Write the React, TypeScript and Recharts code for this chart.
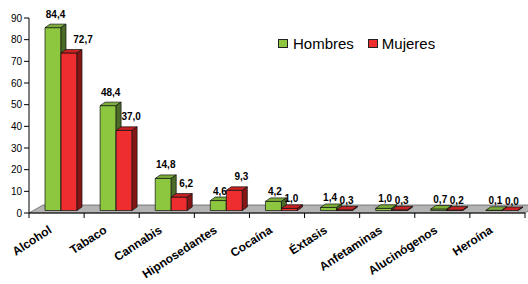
import React from 'react'
import { BarChart, Bar, XAxis, YAxis, Legend, LabelList, ReferenceArea } from 'recharts'

const categories = ['Alcohol', 'Tabaco', 'Cannabis', 'Hipnosedantes', 'Cocaína', 'Éxtasis', 'Anfetaminas', 'Alucinógenos', 'Heroína']
const hombres = [84.4, 48.4, 14.8, 4.6, 4.2, 1.4, 1.0, 0.7, 0.1]
const mujeres = [72.7, 37.0, 6.2, 9.3, 1.0, 0.3, 0.3, 0.2, 0.0]
const yTicks = [0, 10, 20, 30, 40, 50, 60, 70, 80, 90]

const data = categories.map((name, i) => ({ name, hombres: hombres[i], mujeres: mujeres[i] }))

const FONT = '"Liberation Sans", Arial, sans-serif'
const GREEN = { front: '#8DC63F', top: '#7AAE38', side: '#4B6B28' }
const RED = { front: '#EE2E2E', top: '#C82222', side: '#861616' }

// fake 3d depth of the bars and the floor
const DX = 5
const DY = 3.5
const SHIFT_X = 4
const SHIFT_Y = -2.5
const FLOOR_DX = 14
const FLOOR_DY = 8

const fmt = (v: number) => v.toFixed(1).replace('.', ',')

const box = (c: { front: string; top: string; side: string }) => (props: any) => {
  const { x, y, width, height } = props
  const x0 = x + SHIFT_X
  const y0 = y + SHIFT_Y
  const w = width
  const h = Math.max(height || 0, 0)
  const stroke = { stroke: '#111', strokeWidth: 0.7, strokeLinejoin: 'round' as const }
  return (
    <g>
      <rect x={x0} y={y0} width={w} height={h} fill={c.front} {...stroke} />
      <polygon
        points={`${x0},${y0} ${x0 + DX},${y0 - DY} ${x0 + w + DX},${y0 - DY} ${x0 + w},${y0}`}
        fill={c.top}
        {...stroke}
      />
      <polygon
        points={`${x0 + w},${y0} ${x0 + w + DX},${y0 - DY} ${x0 + w + DX},${y0 + h - DY} ${x0 + w},${y0 + h}`}
        fill={c.side}
        {...stroke}
      />
    </g>
  )
}

const label = (dxBig: number, dxSmall: number) => (props: any) => {
  const { x, y, width, value, index } = props
  const small = value < 5
  // excel pushed the first red label a bit further right
  const extra = dxBig > 5 && index === 0 ? 7 : 0
  return (
    <text
      x={x + SHIFT_X + width / 2 + (small ? dxSmall : dxBig) + extra}
      y={y + SHIFT_Y - (small ? 6 : 10)}
      textAnchor="middle"
      fontSize={10}
      fontWeight="bold"
      fontFamily={FONT}
      fill="#000"
    >
      {fmt(value)}
    </text>
  )
}

const Floor = (props: any) => {
  const { x, y, width, height } = props
  const yb = y + height
  const step = width / categories.length
  return (
    <g>
      <polygon
        points={`${x},${yb} ${x + FLOOR_DX},${yb - FLOOR_DY} ${x + width + FLOOR_DX},${yb - FLOOR_DY} ${x + width},${yb}`}
        fill="#B3B3B3"
        stroke="#555"
        strokeWidth={0.7}
      />
      {categories.map((_, i) => (
        <line key={i} x1={x + (i + 1) * step} x2={x + (i + 1) * step} y1={yb} y2={yb + 5} stroke="#000" />
      ))}
      <line x1={x} x2={x} y1={yb} y2={yb + 5} stroke="#000" />
    </g>
  )
}

const XTick = (props: any) => {
  const { x, y, payload } = props
  const ax = x - 4
  const ay = y + 17
  return (
    <text
      x={ax}
      y={ay}
      transform={`rotate(-33, ${ax}, ${ay})`}
      textAnchor="end"
      fontSize={12}
      fontWeight="bold"
      fontFamily={FONT}
      fill="#000"
    >
      {payload.value}
    </text>
  )
}

const LegendBox = () => (
  <div style={{ display: 'flex', alignItems: 'center', fontFamily: FONT, fontSize: 15, lineHeight: '15px', color: '#000' }}>
    <span style={{ width: 8, height: 7, background: GREEN.front, border: '1px solid #222', marginRight: 5 }} />
    <span style={{ marginRight: 14 }}>Hombres</span>
    <span style={{ width: 8, height: 7, background: RED.front, border: '1px solid #222', marginRight: 4 }} />
    <span>Mujeres</span>
  </div>
)

export default function App() {
  return (
    <div style={{ position: 'absolute', left: 0, top: 0, background: '#fff' }}>
      <BarChart
        width={528}
        height={284}
        data={data}
        margin={{ top: 18, right: 3, bottom: 0, left: 0 }}
        barGap={0}
        barSize={16}
      >
        <ReferenceArea y1={0} y2={1} shape={<Floor />} ifOverflow="visible" />
        <XAxis
          dataKey="name"
          height={71}
          tickLine={false}
          tickSize={0}
          interval={0}
          axisLine={{ stroke: '#000', strokeWidth: 1 }}
          tick={<XTick />}
        />
        <YAxis
          width={29}
          domain={[0, 90]}
          ticks={yTicks}
          tickSize={5}
          tickMargin={2}
          interval={0}
          axisLine={{ stroke: '#000' }}
          tickLine={{ stroke: '#000' }}
          tick={{ fontSize: 10, fill: '#000', fontFamily: FONT }}
        />
        <Legend
          layout="horizontal"
          verticalAlign="middle"
          align="center"
          wrapperStyle={{ top: 36, left: 278, width: 'auto', height: 'auto' }}
          content={<LegendBox />}
        />
        <Bar dataKey="hombres" name="Hombres" fill={GREEN.front} shape={box(GREEN)} isAnimationActive={false}>
          <LabelList dataKey="hombres" content={label(2.5, 1.5)} />
        </Bar>
        <Bar dataKey="mujeres" name="Mujeres" fill={RED.front} shape={box(RED)} isAnimationActive={false}>
          <LabelList dataKey="mujeres" content={label(7, 2)} />
        </Bar>
      </BarChart>
    </div>
  )
}
